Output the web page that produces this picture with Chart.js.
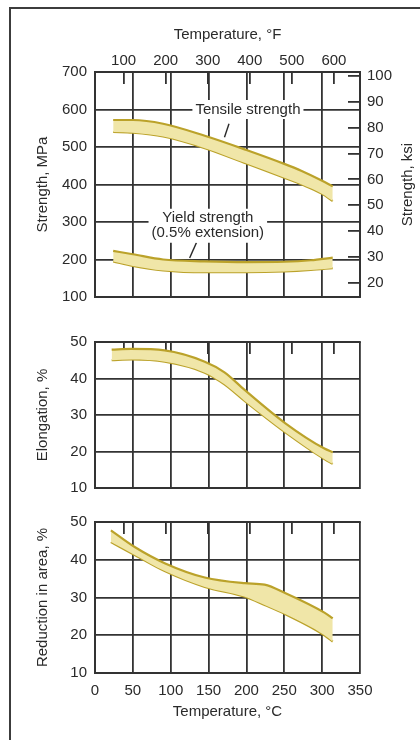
<!DOCTYPE html>
<html>
<head>
<meta charset="utf-8">
<script src="https://cdn.jsdelivr.net/npm/chart.js@4.4.1/dist/chart.umd.min.js"></script>
<style>
  html, body { margin: 0; padding: 0; background: #fff; }
  #wrap { position: relative; width: 420px; height: 740px; overflow: hidden; }
  #frame { position: absolute; left: 9px; top: 7px; width: 430px; height: 750px;
           border-top: 2px solid #3c3c3c; border-left: 2px solid #3c3c3c; }
  canvas { position: absolute; left: 0; }
</style>
</head>
<body>
<div id="wrap">
  <div id="frame"></div>
  <canvas id="strength" width="420" height="325" style="top:0"></canvas>
  <canvas id="elong" width="420" height="180" style="top:325px"></canvas>
  <canvas id="ra" width="420" height="235" style="top:505px"></canvas>
</div>
<script>
// axis ticks
const cTicks = [0, 50, 100, 150, 200, 250, 300, 350];
const fTicks = [100, 200, 300, 400, 500, 600];
const mpaTicks = [100, 200, 300, 400, 500, 600, 700];
const ksiTicks = [20, 30, 40, 50, 60, 70, 80, 90, 100];
const pctTicks = [10, 20, 30, 40, 50];

// tensile strength band, MPa
const tensileC = [24, 50, 90, 145, 200, 250, 273, 300, 314];
const tensileUpper = [572, 572, 562, 530, 492, 455, 436, 410, 395];
const tensileLower = [540, 538, 528, 497, 456, 418, 400, 375, 356];

// yield strength (0.5% extension) band, MPa
const yieldC = [24, 50, 90, 145, 200, 250, 285, 314];
const yieldUpper = [223, 214, 200, 195, 193, 194, 198, 205];
const yieldLower = [195, 183, 171, 166, 166, 168, 172, 177];

// elongation band, %
const elongC = [22, 48, 92, 145, 171, 198, 251, 303, 314];
const elongUpper = [47.9, 48.1, 47.7, 44.6, 41.7, 36.8, 27.8, 20.8, 19.8];
const elongLower = [45.0, 45.2, 44.6, 41.6, 38.4, 33.8, 25.3, 17.9, 16.6];

// reduction in area band, %
const raC = [21, 53, 92, 145, 198, 224, 251, 303, 314];
const raUpper = [47.8, 43.3, 39.1, 35.3, 33.8, 33.4, 31.2, 26.0, 24.5];
const raLower = [44.7, 41.2, 37.0, 32.8, 30.2, 28.0, 25.6, 20.0, 18.3];

// curve labels, placed in data units (°C, MPa)
const noteTensile = { lines: ['Tensile strength'], c: 202, mpa: 600 };
const noteYield = { lines: ['Yield strength', '(0.5% extension)'], c: 149, mpa: 290 };
const leaderTensile = [[177, 562], [171, 526]];
const leaderYield = [[134, 245], [125, 204]];

const INK = '#2a2a2a';
const GRID = '#333333';
const EDGE = '#bba22a';
const FILL = '#f0e6a8';
const FONT = { family: "'Liberation Sans', Arial, sans-serif", size: 15 };

Chart.defaults.font.family = FONT.family;
Chart.defaults.font.size = 15;
Chart.defaults.color = INK;

const cToF = c => c * 9 / 5 + 32;
const pts = (xs, ys) => xs.map((x, i) => ({ x: x, y: ys[i] }));
const setTicks = vals => scale => { scale.ticks = vals.map(v => ({ value: v })); };

function band(xs, upper, lower) {
  const common = {
    borderColor: EDGE, borderWidth: 2.2, pointRadius: 0,
    cubicInterpolationMode: 'monotone', xAxisID: 'x', yAxisID: 'y'
  };
  return [
    Object.assign({ data: pts(xs, upper), fill: '+1', backgroundColor: FILL }, common),
    Object.assign({ data: pts(xs, lower), fill: false }, common)
  ];
}

function xAxes(opts) {
  return {
    x: {
      type: 'linear', position: 'bottom', min: 0, max: 350,
      afterBuildTicks: setTicks(cTicks),
      grid: { color: GRID, lineWidth: 1.8, drawTicks: false },
      border: { color: GRID, width: 2 },
      ticks: { display: opts.labels, padding: 9, font: FONT, color: INK },
      title: { display: opts.labels, text: 'Temperature, °C', font: FONT, color: INK, padding: { top: 0, bottom: 19 } },
      afterFit: s => { s.height = opts.bottom; }
    },
    xF: {
      type: 'linear', axis: 'x', position: 'top', min: cToF(0), max: cToF(350),
      afterBuildTicks: setTicks(fTicks),
      grid: { drawOnChartArea: false, tickLength: -12, color: GRID, lineWidth: 1.8 },
      border: { color: GRID, width: 2 },
      ticks: { display: opts.top > 20, padding: 14, font: FONT, color: INK },
      title: { display: opts.top > 20, text: 'Temperature, °F', font: FONT, color: INK, padding: { top: 26, bottom: 0 } },
      afterFit: s => { s.height = opts.top; }
    }
  };
}

function yAxis(min, max, ticks, title) {
  return {
    type: 'linear', position: 'left', min: min, max: max,
    afterBuildTicks: setTicks(ticks),
    grid: { color: GRID, lineWidth: 1.8, drawTicks: false },
    border: { color: GRID, width: 2 },
    ticks: { padding: 8, font: FONT, color: INK },
    title: { display: true, text: title, font: FONT, color: INK, padding: { top: 34, bottom: 0 } },
    afterFit: s => { s.width = 95; }
  };
}

// right-hand title reads bottom-to-top like the left one
const ksiTitle = {
  id: 'ksiTitle',
  afterDraw(chart) {
    const { ctx, chartArea } = chart;
    ctx.save();
    ctx.translate(408, (chartArea.top + chartArea.bottom) / 2);
    ctx.rotate(-Math.PI / 2);
    ctx.font = "15px 'Liberation Sans', Arial, sans-serif";
    ctx.fillStyle = INK;
    ctx.textAlign = 'center';
    ctx.textBaseline = 'middle';
    ctx.fillText('Strength, ksi', 0, 0);
    ctx.restore();
  }
};

const curveNotes = {
  id: 'curveNotes',
  afterDatasetsDraw(chart) {
    const { ctx } = chart;
    const sx = chart.scales.x, sy = chart.scales.y;
    ctx.save();
    ctx.strokeStyle = INK;
    ctx.lineWidth = 1.4;
    [leaderTensile, leaderYield].forEach(l => {
      ctx.beginPath();
      ctx.moveTo(sx.getPixelForValue(l[0][0]), sy.getPixelForValue(l[0][1]));
      ctx.lineTo(sx.getPixelForValue(l[1][0]), sy.getPixelForValue(l[1][1]));
      ctx.stroke();
    });
    ctx.font = "15px 'Liberation Sans', Arial, sans-serif";
    ctx.textAlign = 'center';
    ctx.textBaseline = 'middle';
    [noteTensile, noteYield].forEach(n => {
      const cx = sx.getPixelForValue(n.c), cy = sy.getPixelForValue(n.mpa);
      const lh = 15;
      const w = Math.max(...n.lines.map(t => ctx.measureText(t).width)) + 6;
      const h = n.lines.length * lh + 4;
      ctx.fillStyle = '#fff';
      ctx.fillRect(cx - w / 2, cy - h / 2, w, h);
      ctx.fillStyle = INK;
      n.lines.forEach((t, i) => {
        ctx.fillText(t, cx, cy - (n.lines.length - 1) * lh / 2 + i * lh);
      });
    });
    ctx.restore();
  }
};

const baseOptions = {
  responsive: false,
  animation: false,
  plugins: { legend: { display: false }, tooltip: { enabled: false } }
};

new Chart(document.getElementById('strength'), {
  type: 'line',
  data: { datasets: band(tensileC, tensileUpper, tensileLower).concat(band(yieldC, yieldUpper, yieldLower)) },
  options: Object.assign({}, baseOptions, {
    layout: { padding: 0 },
    scales: Object.assign(xAxes({ labels: false, top: 72, bottom: 8 }), {
      y: yAxis(100, 700, mpaTicks, 'Strength, MPa'),
      yKsi: {
        type: 'linear', axis: 'y', position: 'right', min: 100 / 6.895, max: 700 / 6.895,
        afterBuildTicks: setTicks(ksiTicks),
        grid: { drawOnChartArea: false, tickLength: -12, color: GRID, lineWidth: 1.8 },
        border: { color: GRID, width: 2 },
        ticks: { padding: 19, font: FONT, color: INK },
        afterFit: s => { s.width = 60; }
      }
    })
  }),
  plugins: [ksiTitle, curveNotes]
});

new Chart(document.getElementById('elong'), {
  type: 'line',
  data: { datasets: band(elongC, elongUpper, elongLower) },
  options: Object.assign({}, baseOptions, {
    layout: { padding: { right: 60 } },
    scales: Object.assign(xAxes({ labels: false, top: 9, bottom: 10 }), {
      y: yAxis(10, 50, pctTicks, 'Elongation, %')
    })
  })
});

new Chart(document.getElementById('ra'), {
  type: 'line',
  data: { datasets: band(raC, raUpper, raLower) },
  options: Object.assign({}, baseOptions, {
    layout: { padding: { right: 60 } },
    scales: Object.assign(xAxes({ labels: true, top: 8, bottom: 67 }), {
      y: yAxis(10, 50, pctTicks, 'Reduction in area, %')
    })
  })
});
</script>
</body>
</html>
